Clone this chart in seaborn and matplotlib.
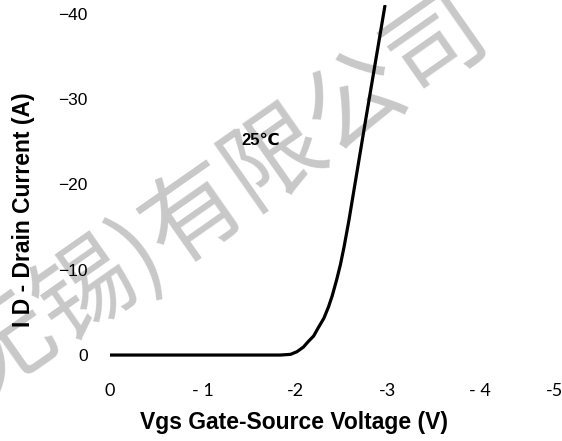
import numpy as np
import matplotlib
matplotlib.use("Agg")
import matplotlib.pyplot as plt
import seaborn as sns

sns.set_theme(style="white")
plt.rcParams['font.family'] = ['Liberation Sans', 'DejaVu Sans']
plt.rcParams['text.color'] = 'black'
plt.rcParams['axes.labelcolor'] = 'black'
plt.rcParams['xtick.color'] = 'black'
plt.rcParams['ytick.color'] = 'black'

# transfer curve (Vgs in V, ID in A)
vgs = [0.0, -0.5, -1.0, -1.5, -1.84, -1.95, -2.02, -2.09, -2.14, -2.20, -2.25, -2.31,
       -2.36, -2.40, -2.45, -2.49, -2.53, -2.58, -2.76, -2.97]
drain_current = [0.0, 0.0, 0.0, 0.0, 0.0, -0.08, -0.39, -0.94, -1.56, -2.23, -3.2, -4.3,
                 -5.63, -6.92, -8.88, -10.64, -12.76, -15.72, -27.45, -40.94]

x_ticks = [0, -1, -2, -3, -4, -4.80]
x_tick_labels = ["0", "- 1", "-2", "-3", "- 4", "-5"]
y_ticks = [0, -10, -20, -30, -40]

temp_label = "25℃"
watermark = "无锡)有限公司"

fig = plt.figure(figsize=(5.62, 4.41), dpi=100)
ax = fig.add_axes([110 / 562, 1 - 357 / 441, 448 / 562, 352 / 441])
ax.set_zorder(1)
ax.set_facecolor('none')

# watermark behind the axes
fig.text(222 / 562, 1 - 198 / 441, watermark, rotation=35, fontsize=71,
         color='#c8c8c8', ha='center', va='center', zorder=0,
         family=['Noto Sans CJK SC', 'DejaVu Sans'])

sns.lineplot(x=vgs, y=drain_current, sort=False, estimator=None,
             color='black', linewidth=2.3, ax=ax)

ax.set_xlim(0, -4.84)
ax.set_ylim(0.23, -41.05)
ax.set_xticks(x_ticks)
ax.set_xticklabels(x_tick_labels, family=['Lato', 'DejaVu Sans'], fontsize=13)
ax.set_yticks(y_ticks)
ax.tick_params(axis='y', labelsize=12.5, pad=16, length=0)
ax.tick_params(axis='x', pad=19, length=0)
for s in ax.spines.values():
    s.set_visible(False)

ax.text(-1.63, -25.2, temp_label, fontsize=12, fontweight='bold',
        ha='center', va='center')

ax.set_xlabel("Vgs Gate-Source Voltage (V)", fontsize=16.5, fontweight='bold')
ax.xaxis.set_label_coords((294 - 110) / 448, (357 - 411) / 352)
ax.set_ylabel("I D - Drain Current (A)", fontsize=16.5, fontweight='bold')
ax.yaxis.set_label_coords((35 - 110) / 448, (357 - 210) / 352)

fig.savefig("out.png", dpi=100)
